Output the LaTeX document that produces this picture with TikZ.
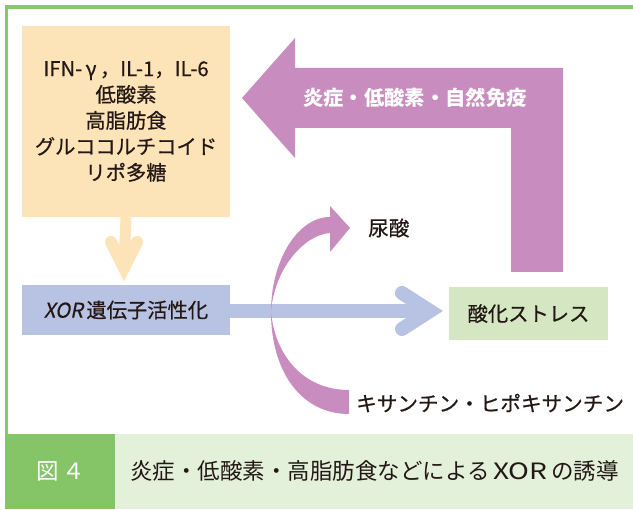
\documentclass[tikz,border=0pt]{standalone}
\usepackage{fontspec}
\setmainfont{Noto Sans CJK JP}
\newfontfamily\medfont[FakeBold=0.6]{Noto Sans CJK JP}
\newfontfamily\slfont[FakeSlant=0.2,FakeBold=0.6]{Noto Sans CJK JP}
\definecolor{frameG}{HTML}{8AC66B}
\definecolor{capDark}{HTML}{86C567}
\definecolor{capLight}{HTML}{E3F0DA}
\definecolor{orangeC}{HTML}{FDE3B8}
\definecolor{blueC}{HTML}{B8C2E2}
\definecolor{greenC}{HTML}{D4E7C2}
\definecolor{purpleC}{HTML}{C88CBE}
\definecolor{txt}{HTML}{231815}
\tikzset{
  box/.style={inner sep=0pt, text=txt, align=center, font=\medfont\fontsize{20.3}{26}\selectfont},
  lbl/.style={inner sep=0pt, text=txt, anchor=west, font=\medfont\fontsize{20.6}{26}\selectfont},
  chev/.style={line width=#1, line cap=round, line join=miter, miter limit=10}
}
\begin{document}
\begin{tikzpicture}[x=1pt,y=-1pt]
\useasboundingbox (0,0) rectangle (633,510);
\fill[white] (0,0) rectangle (633,510);
% caption band
\fill[capLight] (5,434) rectangle (633,509);
\fill[capDark] (5,434) rectangle (115,509);
% frame
\draw[frameG, line width=3.5pt] (6.5,5) -- (6.5,434);
\draw[frameG, line width=3.5pt] (5,7) -- (633,7);
% boxes
\node[box, fill=orangeC, minimum width=208pt, minimum height=191pt] (src) at (126,121.5)
  {IFN-\,γ\,，IL-1，IL-6\\低酸素\\高脂肪食\\グルココルチコイド\\リポ多糖};
\node[box, fill=blueC, minimum width=208pt, minimum height=50pt] (xor) at (126,310)
  {{\slfont XOR}\,遺伝子活性化};
\node[box, fill=greenC, minimum width=159pt, minimum height=53pt] (ox) at (528.5,313.5)
  {酸化ストレス};
% orange arrow
\coordinate (oV) at (124,268);
\coordinate (oL) at (111,242);
\coordinate (oR) at (137,242);
\draw[orangeC, line width=11pt] (src.south) -- (oV);
\draw[orangeC, chev=12pt] (oL) -- (oV) -- (oR);
% blue arrow
\coordinate (bV) at (430,311);
\coordinate (bU) at (402,293);
\coordinate (bD) at (402,329);
\draw[blueC, line width=14pt] (xor.east |- bV) -- (bV);
\draw[blueC, chev=14pt] (bU) -- (bV) -- (bD);
% purple L arrow
\fill[purpleC] (563,272) -- (563,68) -- (295,68) -- (295,38) -- (242,98) -- (295,158)
  -- (295,128) -- (511,128) -- (511,272) -- cycle;
\node[inner sep=0pt, text=white, font=\bfseries\fontsize{20.3}{24}\selectfont] (inf) at (415,98)
  {炎症・低酸素・自然免疫};
% curved purple arrow
\fill[purpleC] (349,414) .. controls (300,414) and (271,370) .. (271,312)
  .. controls (271,260) and (298,217) .. (330,217) -- (330,206) -- (350,228) -- (330,252)
  -- (330,233) .. controls (303,235) and (274,270) .. (271,312)
  .. controls (275,355) and (303,390) .. (349,390) -- cycle;
\node[lbl] (ua) at (368,228) {尿酸};
\node[lbl] (xa) at (356,403) {キサンチン・ヒポキサンチン};
% caption
\node[inner sep=0pt, text=white, font=\fontsize{22.5}{22}\selectfont] (fig) at (61,471) {図\,４};
\node[inner sep=0pt, anchor=west, text=txt, font=\fontsize{22.5}{22}\selectfont] (cap) at (130,471)
  {炎症・低酸素・高脂肪食などによる\,\scalebox{1.25}[1]{XOR}\,の誘導};
\end{tikzpicture}
\end{document}
